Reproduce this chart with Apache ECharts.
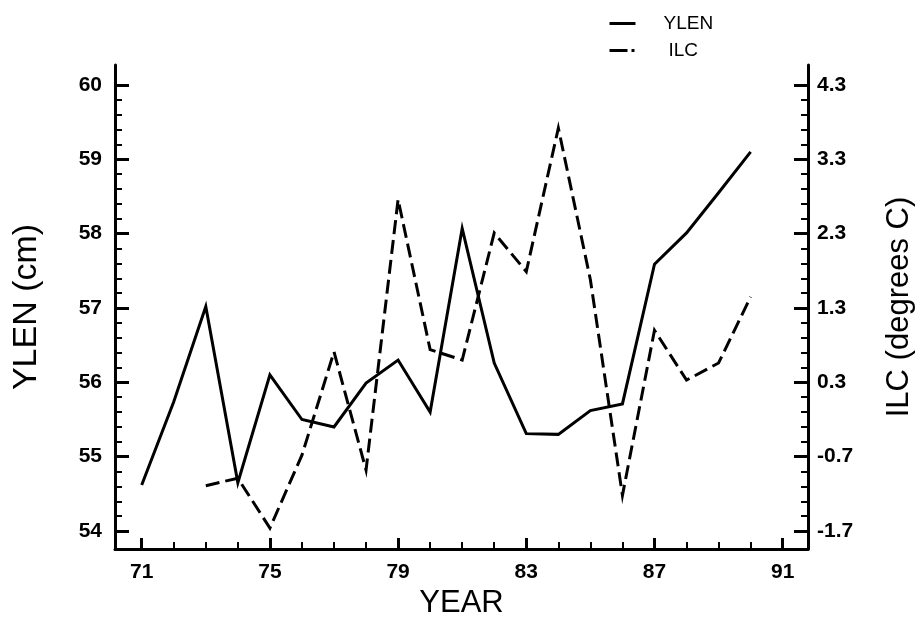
<!DOCTYPE html>
<html><head><meta charset="utf-8">
<script src="https://cdn.jsdelivr.net/npm/echarts@6/dist/echarts.min.js"></script>
<style>html,body{margin:0;padding:0;background:#fff}#c{width:919px;height:626px}</style>
</head><body><div id="c"></div>
<script>
// ---- data ----
const years = [71,72,73,74,75,76,77,78,79,80,81,82,83,84,85,86,87,88,89,90];
const ylen  = [54.62,55.74,57.02,54.65,56.10,55.50,55.40,55.99,56.30,55.60,58.07,56.26,55.31,55.30,55.62,55.71,57.59,58.01,58.55,59.10];
const ilcYears = [73,74,75,76,77,78,79,80,81,82,83,84,85,86,87,88,89,90];
const ilc   = [-1.09,-0.99,-1.66,-0.68,0.71,-0.88,2.76,0.74,0.60,2.31,1.79,3.72,1.68,-1.22,1.00,0.33,0.56,1.45];
const xTicks = [71,75,79,83,87,91];
const leftTicks = [54,55,56,57,58,59,60];
const rightTicks = [-1.7,-0.7,0.3,1.3,2.3,3.3,4.3];

// minor tick positions
const xMinor = []; for (let v = 71; v <= 91; v++) xMinor.push(v);
const leftMinor = []; for (let i = 0; i <= 30; i++) leftMinor.push(+(54 + i*0.2).toFixed(2));
const rightMinor = []; for (let i = 0; i <= 30; i++) rightMinor.push(+(-1.7 + i*0.2).toFixed(2));

const FONT = 'Liberation Sans';
const X_MIN = 70.167, X_MAX = 91.79;
const L_MIN = 53.758, L_MAX = 60.269;
const R_MIN = L_MIN - 55.7, R_MAX = L_MAX - 55.7;

const black = '#000';
const labelStyle = {color: black, fontFamily: FONT, fontSize: 21, fontWeight: 'bold'};
const nameStyle = {color: black, fontFamily: FONT, fontSize: 31};

const chart = echarts.init(document.getElementById('c'), null, {renderer: 'canvas'});
chart.setOption({
  animation: false,
  backgroundColor: '#fff',
  grid: {left: 115, right: 111, top: 65, bottom: 77, containLabel: false, outerBoundsMode: 'none'},
  legend: {
    data: [
      {name: 'YLEN'},
      {name: 'ILC', lineStyle: {type: [18, 4, 3, 100]}, textStyle: {padding: [0,0,0,28]}}
    ],
    orient: 'vertical',
    left: 603, top: 9,
    itemWidth: 26, itemHeight: 14, itemGap: 8,
    itemStyle: {opacity: 0},
    lineStyle: {width: 3, color: black},
    textStyle: {color: black, fontFamily: FONT, fontSize: 19, padding: [0,0,0,23]}
  },
  xAxis: [
    {
      type: 'value', min: X_MIN, max: X_MAX, position: 'bottom',
      axisLine: {show: true, onZero: false, lineStyle: {color: black, width: 3}},
      axisTick: {show: true, inside: true, length: 11, lineStyle: {color: black, width: 3}, customValues: xTicks},
      axisLabel: Object.assign({show: true, margin: 13, customValues: xTicks}, labelStyle),
      splitLine: {show: false},
      name: 'YEAR', nameLocation: 'middle', nameGap: 39,
      nameTextStyle: nameStyle
    },
    {
      type: 'value', min: X_MIN, max: X_MAX, position: 'bottom',
      axisLine: {show: false, onZero: false},
      axisTick: {show: true, inside: true, length: 7, lineStyle: {color: black, width: 2}, customValues: xMinor},
      axisLabel: {show: false},
      splitLine: {show: false}
    }
  ],
  yAxis: [
    {
      type: 'value', min: L_MIN, max: L_MAX, position: 'left',
      axisLine: {show: true, onZero: false, lineStyle: {color: black, width: 3}},
      axisTick: {show: true, inside: true, length: 14, lineStyle: {color: black, width: 3}, customValues: leftTicks},
      axisLabel: Object.assign({show: true, margin: 13, customValues: leftTicks}, labelStyle),
      splitLine: {show: false},
      name: 'YLEN (cm)', nameLocation: 'middle', nameRotate: 90, nameGap: 71,
      nameTextStyle: Object.assign({}, nameStyle, {fontSize: 34})
    },
    {
      type: 'value', min: R_MIN, max: R_MAX, position: 'right',
      axisLine: {show: true, onZero: false, lineStyle: {color: black, width: 3}},
      axisTick: {show: true, inside: true, length: 14, lineStyle: {color: black, width: 3}, customValues: rightTicks},
      axisLabel: Object.assign({show: true, margin: 9, customValues: rightTicks, formatter: v => Number(v).toFixed(1)}, labelStyle),
      splitLine: {show: false},
      name: 'ILC (degrees C)', nameLocation: 'middle', nameRotate: 90, nameGap: 76,
      nameTextStyle: nameStyle
    },
    {
      type: 'value', min: L_MIN, max: L_MAX, position: 'left',
      axisLine: {show: false, onZero: false},
      axisTick: {show: true, inside: true, length: 7, lineStyle: {color: black, width: 2}, customValues: leftMinor},
      axisLabel: {show: false},
      splitLine: {show: false}
    },
    {
      type: 'value', min: R_MIN, max: R_MAX, position: 'right',
      axisLine: {show: false, onZero: false},
      axisTick: {show: true, inside: true, length: 7, lineStyle: {color: black, width: 2}, customValues: rightMinor},
      axisLabel: {show: false},
      splitLine: {show: false}
    }
  ],
  series: [
    {
      name: 'YLEN', type: 'line', xAxisIndex: 0, yAxisIndex: 0,
      data: years.map((y, i) => [y, ylen[i]]),
      symbol: 'none', lineStyle: {color: black, width: 3, join: 'miter'}, itemStyle: {color: black}
    },
    {
      name: 'ILC', type: 'line', xAxisIndex: 0, yAxisIndex: 1,
      data: ilcYears.map((y, i) => [y, ilc[i]]),
      symbol: 'none', lineStyle: {color: black, width: 3, type: [14, 6], join: 'miter'}, itemStyle: {color: black}
    }
  ]
});
</script>
</body></html>
